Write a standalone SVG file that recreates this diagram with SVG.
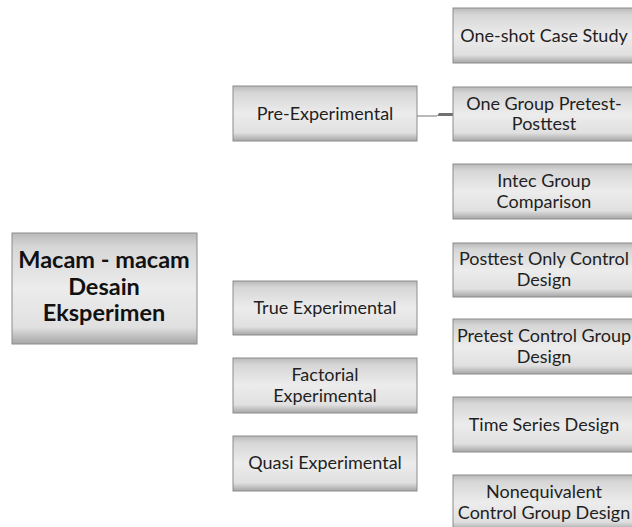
<svg xmlns="http://www.w3.org/2000/svg" width="632" height="527" viewBox="0 0 632 527">
<style>
.box{fill:url(#g);stroke:#8c8c8c;stroke-width:1}
.t{font-family:Lato,"Liberation Sans",sans-serif;font-size:18px;fill:#1f1f1f;text-anchor:middle}
.b{font-family:Lato,"Liberation Sans",sans-serif;font-size:23.5px;font-weight:bold;fill:#111;text-anchor:middle}
.c{stroke:#8a8a8a;stroke-width:1.2;fill:none}
</style>
<defs>
<linearGradient id="g" x1="0" y1="0" x2="0" y2="1">
<stop offset="0" stop-color="#b9b9b9"/>
<stop offset="0.12" stop-color="#d6d6d6"/>
<stop offset="0.5" stop-color="#ececec"/>
<stop offset="0.85" stop-color="#e0e0e0"/>
<stop offset="1" stop-color="#a5a5a5"/>
</linearGradient>
</defs>
<rect width="632" height="527" fill="#fff"/>
<g id="connectors">
<path class="c" d="M417 116 H437"/>
<path d="M437 116 L439 113 H453 V116 Z" fill="#707070"/>
</g>
<g id="main"><rect class="box" x="12" y="233" width="185" height="111"/>
<text class="b" x="104" y="268">Macam - macam</text>
<text class="b" x="104" y="295">Desain</text>
<text class="b" x="104" y="321">Eksperimen</text></g>
<g id="pre"><rect class="box" x="233" y="86" width="184" height="55"/><text class="t" x="325" y="120">Pre-Experimental</text></g>
<g id="true"><rect class="box" x="233" y="281" width="184" height="54"/><text class="t" x="325" y="314">True Experimental</text></g>
<g id="factorial"><rect class="box" x="233" y="358" width="184" height="55"/><text class="t" x="325" y="381">Factorial</text><text class="t" x="325" y="402">Experimental</text></g>
<g id="quasi"><rect class="box" x="233" y="436" width="184" height="55"/><text class="t" x="325" y="469">Quasi Experimental</text></g>
<g id="oneshot"><rect class="box" x="453" y="8" width="184" height="55"/><text class="t" x="544" y="42">One-shot Case Study</text></g>
<g id="onegroup"><rect class="box" x="453" y="87" width="184" height="54"/><text class="t" x="544" y="110">One Group Pretest-</text><text class="t" x="544" y="130">Posttest</text></g>
<g id="intec"><rect class="box" x="453" y="164" width="184" height="55"/><text class="t" x="544" y="187">Intec Group</text><text class="t" x="544" y="208">Comparison</text></g>
<g id="posttest"><rect class="box" x="453" y="243" width="184" height="54"/><text class="t" x="544" y="265">Posttest Only Control</text><text class="t" x="544" y="286">Design</text></g>
<g id="pretest"><rect class="box" x="453" y="319" width="184" height="55"/><text class="t" x="544" y="342">Pretest Control Group</text><text class="t" x="544" y="363">Design</text></g>
<g id="timeseries"><rect class="box" x="453" y="397" width="184" height="55"/><text class="t" x="544" y="431">Time Series Design</text></g>
<g id="nonequiv"><rect class="box" x="453" y="475" width="184" height="55"/><text class="t" x="544" y="498">Nonequivalent</text><text class="t" x="544" y="519">Control Group Design</text></g>
</svg>
